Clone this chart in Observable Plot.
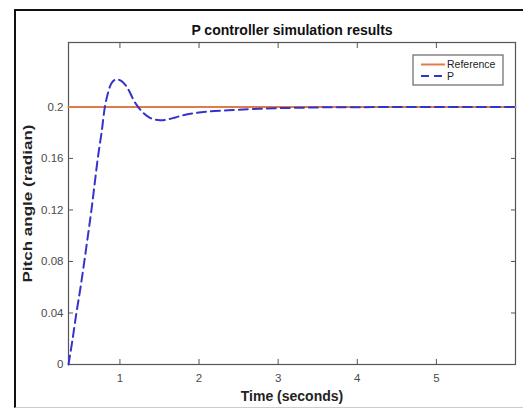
<!DOCTYPE html>
<html>
<head>
<meta charset="utf-8">
<script src="https://cdn.jsdelivr.net/npm/d3@7"></script>
<script src="https://cdn.jsdelivr.net/npm/@observablehq/plot@0.6"></script>
<style>
  html, body { margin: 0; padding: 0; background: #fff; }
  #wrap { position: relative; width: 523px; height: 409px; overflow: hidden; }
  #frame { position: absolute; left: 14px; top: 9px; right: -10px; bottom: 1px;
           border-left: 2px solid #111; border-top: 2px solid #111; border-bottom: 1px solid #ccc; pointer-events: none; }
  svg { position: absolute; left: 0; top: 0; }
</style>
</head>
<body>
<div id="wrap"><div id="frame"></div></div>
<script>
// Data
const time = [0.35, 0.40, 0.45, 0.50, 0.55, 0.60, 0.64, 0.68, 0.72, 0.77, 0.81, 0.85, 0.89, 0.93, 0.97, 1.02, 1.07, 1.12, 1.18, 1.23, 1.30, 1.38, 1.45, 1.52, 1.60, 1.70, 1.80, 1.95, 2.10, 2.30, 2.50, 2.75, 3.00, 3.30, 3.60, 4.00, 4.50, 5.00, 5.50, 6.00];
const pitch = [0.0, 0.019, 0.040, 0.059, 0.080, 0.102, 0.120, 0.140, 0.160, 0.181, 0.200, 0.211, 0.218, 0.2208, 0.2213, 0.2200, 0.2170, 0.2120, 0.2045, 0.2000, 0.1950, 0.1915, 0.1900, 0.1897, 0.1902, 0.1918, 0.1935, 0.1952, 0.1963, 0.1972, 0.1978, 0.1985, 0.1990, 0.1994, 0.1997, 0.1998, 0.1999, 0.2000, 0.2000, 0.2000];
const referenceTime = [0.35, 6.0];
const referenceValue = [0.2, 0.2];
const xTicks = [1, 2, 3, 4, 5];
const yTicks = [0, 0.04, 0.08, 0.12, 0.16, 0.2];
const yTickLabels = ["0", "0.04", "0.08", "0.12", "0.16", "0.2"];
const seriesNames = ["Reference", "P"];
const title = "P controller simulation results";
const xLabel = "Time (seconds)";
const yLabel = "Pitch angle (radian)";

const pData = time.map((t, i) => ({t, v: pitch[i]}));
const refData = referenceTime.map((t, i) => ({t, v: referenceValue[i]}));

const orange = "#e07a4a";
const blue = "#3434cc";
const axisGray = "#555";
const font = "'Liberation Sans', Arial, sans-serif";

const chart = Plot.plot({
  width: 523,
  height: 409,
  marginLeft: 68,
  marginRight: 8,
  marginTop: 42,
  marginBottom: 45,
  style: {fontFamily: font, background: "transparent", overflow: "visible"},
  x: {domain: [0.35, 6], label: null},
  y: {domain: [0, 0.25], label: null},
  marks: [
    Plot.frame({stroke: axisGray, strokeWidth: 1.2}),
    // inward ticks on all four sides
    Plot.axisX(xTicks, {anchor: "bottom", tickSize: -5, text: null, stroke: axisGray}),
    Plot.axisX(xTicks, {anchor: "top", tickSize: -5, text: null, stroke: axisGray}),
    Plot.axisY(yTicks, {anchor: "left", tickSize: -5, text: null, stroke: axisGray}),
    Plot.axisY(yTicks, {anchor: "right", tickSize: -5, text: null, stroke: axisGray}),
    // tick labels
    Plot.axisX(xTicks, {anchor: "bottom", tickSize: 0, tickPadding: 9, fontSize: 11.5, fill: "#4a4a4a", tickFormat: d => String(d)}),
    Plot.axisY(yTicks, {anchor: "left", tickSize: 0, tickPadding: 5, fontSize: 11.5, fill: "#4a4a4a", tickFormat: d => yTickLabels[yTicks.indexOf(d)]}),
    // series
    Plot.line(refData, {x: "t", y: "v", stroke: orange, strokeWidth: 2}),
    Plot.line(pData, {x: "t", y: "v", stroke: blue, strokeWidth: 2, strokeDasharray: "9,5", curve: "catmull-rom"}),
    // title and axis labels
    Plot.text([title], {frameAnchor: "top", dy: -17, fontSize: 14, fontWeight: "bold", fill: "#111"}),
    Plot.text([xLabel], {frameAnchor: "bottom", dy: 36, fontSize: 14, fontWeight: "bold", fill: "#222"}),
    Plot.text([yLabel], {frameAnchor: "left", textAnchor: "middle", dx: -41, rotate: -90, fontSize: 13.5, fontWeight: "bold", fill: "#222", className: "ylabel"})
  ]
});
document.getElementById("wrap").prepend(chart);

// the reference's vertical label is stretched along its length
d3.select(chart).selectAll(".ylabel text").attr("textLength", 158).attr("lengthAdjust", "spacingAndGlyphs");

// Legend (MATLAB-style box inside the axes), positioned through the chart's scales
const xs = chart.scale("x"), ys = chart.scale("y");
const svg = d3.select(chart);
const lx = xs.apply(6) - 102, ly = ys.apply(0.25) + 13;
const lg = svg.append("g").attr("font-family", font).attr("text-anchor", "start");
lg.append("rect").attr("x", lx).attr("y", ly).attr("width", 90).attr("height", 30)
  .attr("fill", "#fff").attr("stroke", "#666").attr("stroke-width", 1.2);
const colors = [orange, blue];
const dashes = [null, "8,5"];
seriesNames.forEach((name, i) => {
  const yy = ly + 9.5 + i * 11.5;
  lg.append("line").attr("x1", lx + 8).attr("x2", lx + 32).attr("y1", yy).attr("y2", yy)
    .attr("stroke", colors[i]).attr("stroke-width", 2).attr("stroke-dasharray", dashes[i]);
  lg.append("text").attr("x", lx + 34).attr("y", yy).attr("dy", "0.35em")
    .attr("font-size", 10.5).attr("fill", "#222").text(name);
});
</script>
</body>
</html>
